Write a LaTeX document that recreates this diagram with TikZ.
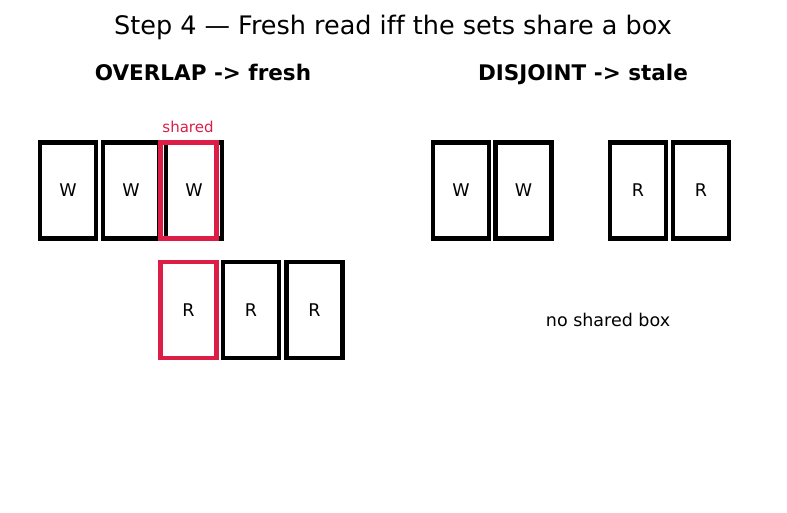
\documentclass[tikz,border=0pt]{standalone}
\usepackage{fontspec}
\setmainfont[Ligatures=NoCommon]{DejaVu Sans}
\usepackage{xcolor}
\usetikzlibrary{positioning}
\definecolor{sharedred}{RGB}{220,30,70}

\begin{document}
\begin{tikzpicture}[x=1pt, y=-1pt,
  every node/.style={font=\fontsize{17.5}{20}\selectfont},
  heading/.style={font=\fontsize{21.5}{25}\selectfont\bfseries, text depth=0pt},
  slot/.style={draw=black, line width=4.5pt, minimum width=56pt, minimum height=96pt, inner sep=0pt},
  hit/.style={slot, draw=sharedred}]
  \useasboundingbox (0,0) rectangle (787,512);

  % titles
  \node[font=\fontsize{25.5}{30}\selectfont] (title) at (393,27.5) {Step 4 — Fresh read iff the sets share a box};
  \node[heading] (overlap) at (203,72) {OVERLAP -> fresh};
  \node[heading] (disjoint) at (583,72) {DISJOINT -> stale};

  % overlap: writes on top, reads below
  \node[slot] (w1) at (68,190.5) {W};
  \node[slot] (w2) at (131,190.5) {W};
  \node[slot] (w3) at (194,190.5) {W};
  \node[hit] (wshared) at (188.5,190.5) {};
  \node[text=sharedred, font=\fontsize{15}{18}\selectfont] (sharedlbl) at (188,127) {shared};

  \node[hit] (r1) at (188.5,310) {R};
  \node[slot] (r2) at (251,310) {R};
  \node[slot] (r3) at (314.5,310) {R};

  % disjoint: nothing in common
  \node[slot] (dw1) at (461,190.5) {W};
  \node[slot] (dw2) at (523.5,190.5) {W};
  \node[slot] (dr1) at (638,190.5) {R};
  \node[slot] (dr2) at (701,190.5) {R};

  \node (noshare) at (608,320) {no shared box};
\end{tikzpicture}
\end{document}
